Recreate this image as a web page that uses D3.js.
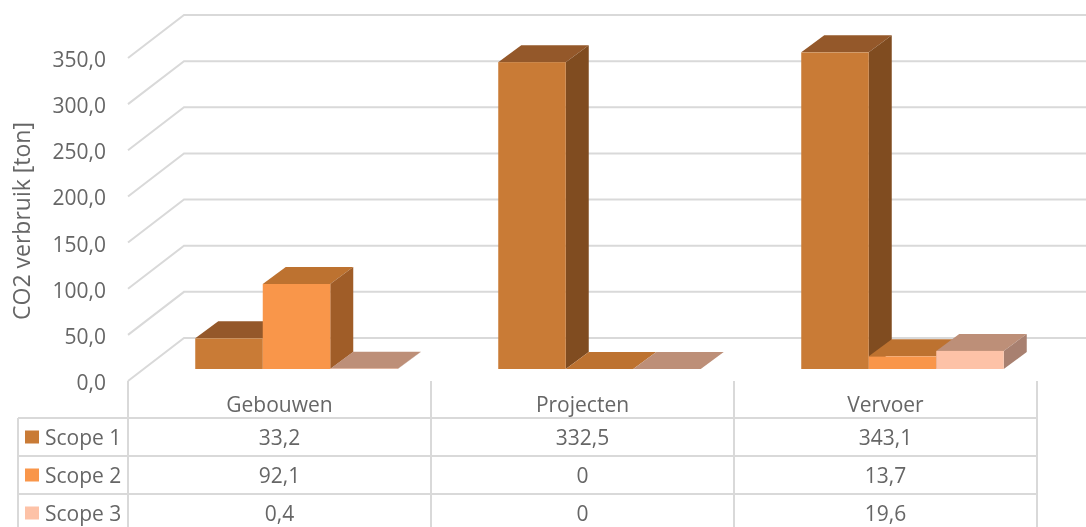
<!DOCTYPE html>
<html>
<head>
<meta charset="utf-8">
<script src="https://cdnjs.cloudflare.com/ajax/libs/d3/7.8.5/d3.min.js"></script>
<style>
html, body { margin: 0; padding: 0; background: #fff; overflow: hidden; }
svg { filter: blur(0.4px); }
text { font-family: "Open Sans", "Noto Sans", sans-serif; fill: #666; }
</style>
</head>
<body>
<svg id="chart" width="1086" height="527"></svg>
<script>
var categories = ['Gebouwen', 'Projecten', 'Vervoer'];
var seriesNames = ['Scope 1', 'Scope 2', 'Scope 3'];
var scope1 = [33.2, 332.5, 343.1];
var scope2 = [92.1, 0, 13.7];
var scope3 = [0.4, 0, 19.6];
var yTicks = [0, 50, 100, 150, 200, 250, 300, 350];

var seriesValues = [scope1, scope2, scope3];
var fmt = function (d) { return d3.format('.1f')(d).replace('.', ','); };
var cell = function (d) { return String(d).replace('.', ','); };

var frontColors = ['#c97b36', '#f9964a', '#fdc2a7'];
var topColors = ['#94582a', '#bd7230', '#bd8f78'];
var sideColors = ['#804c20', '#a05d28', '#a88070'];
var gridColor = '#d9d9d9';

var svg = d3.select('#chart');

// front plane: axis x 128-1037, zero at y 381
var xCat = d3.scaleBand().domain(categories).range([128, 1037]);
var yAxis = d3.scaleLinear().domain([0, 350]).range([381, 58]);

var wallDx = 56, wallDy = 43;    // offset front plane -> back wall
var barInset = 12;               // bars stand this far above the front floor edge
var barDepthX = 23, barDepthY = 17;
var barW = 67.5;

// walls
yTicks.forEach(function (t) {
    var y = yAxis(t);
    svg.append('polyline')
        .attr('points', [[128, y], [128 + wallDx, y - wallDy], [1086, y - wallDy]].join(' '))
        .attr('fill', 'none')
        .attr('stroke', gridColor)
        .attr('stroke-width', 2);
    svg.append('text')
        .attr('x', 106)
        .attr('y', y + 1.5)
        .attr('dy', '0.36em')
        .attr('text-anchor', 'end')
        .attr('font-size', 21)
        .text(fmt(t));
});

svg.append('text')
    .attr('transform', 'translate(22,221) rotate(-90)')
    .attr('dy', '0.36em')
    .attr('text-anchor', 'middle')
    .attr('font-size', 23)
    .text('CO2 verbruik [ton]');

// bars, left to right per group so each bar covers its neighbour's side
var baseY = yAxis(0) - barInset;
var hScale = d3.scaleLinear().domain([0, 350]).range([0, 323]);

function poly(points, fill) {
    svg.append('polygon').attr('points', points.join(' ')).attr('fill', fill);
}

categories.forEach(function (c, ci) {
    var left = xCat(c) + xCat.bandwidth() / 2 - barW * 1.5 + 17;
    [0, 1, 2].forEach(function (s) {
        var v = seriesValues[s][ci];
        var x0 = left + s * barW, x1 = x0 + barW;
        var top = baseY - hScale(v);
        poly([[x0, top], [x0 + barDepthX, top - barDepthY], [x1 + barDepthX, top - barDepthY], [x1, top]], topColors[s]);
        poly([[x1, top], [x1 + barDepthX, top - barDepthY], [x1 + barDepthX, baseY - barDepthY], [x1, baseY]], sideColors[s]);
        svg.append('rect')
            .attr('x', x0).attr('y', top)
            .attr('width', barW).attr('height', baseY - top)
            .attr('fill', frontColors[s]);
    });
});

// data table
var tableTop = 418, rowH = 38, tableLeft = 18;
var colEdges = [128].concat(categories.map(function (c) { return xCat(c) + xCat.bandwidth(); }));

colEdges.forEach(function (x) {
    svg.append('line').attr('x1', x).attr('x2', x).attr('y1', 381).attr('y2', 527)
        .attr('stroke', gridColor).attr('stroke-width', 2);
});
svg.append('line').attr('x1', tableLeft).attr('x2', tableLeft).attr('y1', tableTop).attr('y2', 527)
    .attr('stroke', gridColor).attr('stroke-width', 2);
[0, 1, 2].forEach(function (r) {
    svg.append('line').attr('x1', tableLeft).attr('x2', 1037)
        .attr('y1', tableTop + r * rowH).attr('y2', tableTop + r * rowH)
        .attr('stroke', gridColor).attr('stroke-width', 2);
});

categories.forEach(function (c) {
    svg.append('text')
        .attr('x', xCat(c) + xCat.bandwidth() / 2)
        .attr('y', 404)
        .attr('dy', '0.36em')
        .attr('text-anchor', 'middle')
        .attr('font-size', 21)
        .text(c);
});

seriesNames.forEach(function (name, s) {
    var cy = tableTop + (s + 0.5) * rowH;
    svg.append('rect').attr('x', 25).attr('y', cy - 6.5).attr('width', 14).attr('height', 13)
        .attr('fill', frontColors[s]);
    svg.append('text').attr('x', 45).attr('y', cy).attr('dy', '0.36em')
        .attr('font-size', 21).text(name);
    categories.forEach(function (c, ci) {
        svg.append('text')
            .attr('x', xCat(c) + xCat.bandwidth() / 2)
            .attr('y', cy)
            .attr('dy', '0.36em')
            .attr('text-anchor', 'middle')
            .attr('font-size', 21)
            .text(cell(seriesValues[s][ci]));
    });
});
</script>
</body>
</html>
